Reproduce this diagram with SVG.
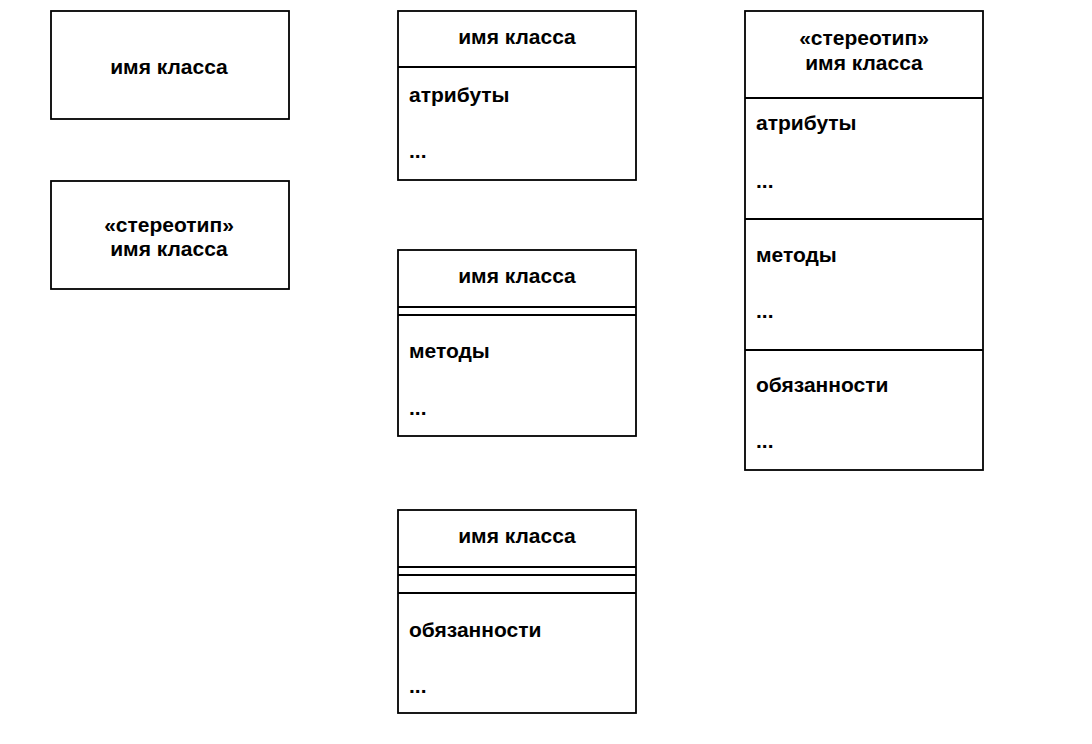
<svg xmlns="http://www.w3.org/2000/svg" width="1092" height="744" viewBox="0 0 1092 744">
<style>
.box{fill:#fff;stroke:#000;stroke-width:1.8}
.ln{stroke:#000;stroke-width:1.8}
text{font-family:"Liberation Sans",Arial,sans-serif;font-weight:bold;font-size:21px;fill:#000}
.c{text-anchor:middle}
</style>
<rect width="1092" height="744" fill="#fff"/>
<g id="class1">
<rect class="box" x="51" y="11" width="238" height="108"/>
<text class="c" x="169" y="74">имя класса</text>
</g>
<g id="class2">
<rect class="box" x="51" y="181" width="238" height="108"/>
<text class="c" x="169" y="232">«стереотип»</text>
<text class="c" x="169" y="256">имя класса</text>
</g>
<g id="class3">
<rect class="box" x="398" y="11" width="238" height="169"/>
<line class="ln" x1="398" y1="67" x2="636" y2="67"/>
<text class="c" x="517" y="44">имя класса</text>
<text x="409" y="102">атрибуты</text>
<text x="409" y="158">...</text>
</g>
<g id="class4">
<rect class="box" x="398" y="250" width="238" height="186"/>
<line class="ln" x1="398" y1="307" x2="636" y2="307"/>
<line class="ln" x1="398" y1="315" x2="636" y2="315"/>
<text class="c" x="517" y="283">имя класса</text>
<text x="409" y="358">методы</text>
<text x="409" y="415">...</text>
</g>
<g id="class5">
<rect class="box" x="398" y="510" width="238" height="203"/>
<line class="ln" x1="398" y1="567" x2="636" y2="567"/>
<line class="ln" x1="398" y1="575" x2="636" y2="575"/>
<line class="ln" x1="398" y1="593" x2="636" y2="593"/>
<text class="c" x="517" y="543">имя класса</text>
<text x="409" y="637">обязанности</text>
<text x="409" y="693">...</text>
</g>
<g id="class6">
<rect class="box" x="745" y="11" width="238" height="459"/>
<line class="ln" x1="745" y1="98" x2="983" y2="98"/>
<line class="ln" x1="745" y1="219" x2="983" y2="219"/>
<line class="ln" x1="745" y1="350" x2="983" y2="350"/>
<text class="c" x="864" y="45">«стереотип»</text>
<text class="c" x="864" y="70">имя класса</text>
<text x="756" y="130">атрибуты</text>
<text x="756" y="188">...</text>
<text x="756" y="262">методы</text>
<text x="756" y="318">...</text>
<text x="756" y="392">обязанности</text>
<text x="756" y="448">...</text>
</g>
<g id="connectors"/>
</svg>
